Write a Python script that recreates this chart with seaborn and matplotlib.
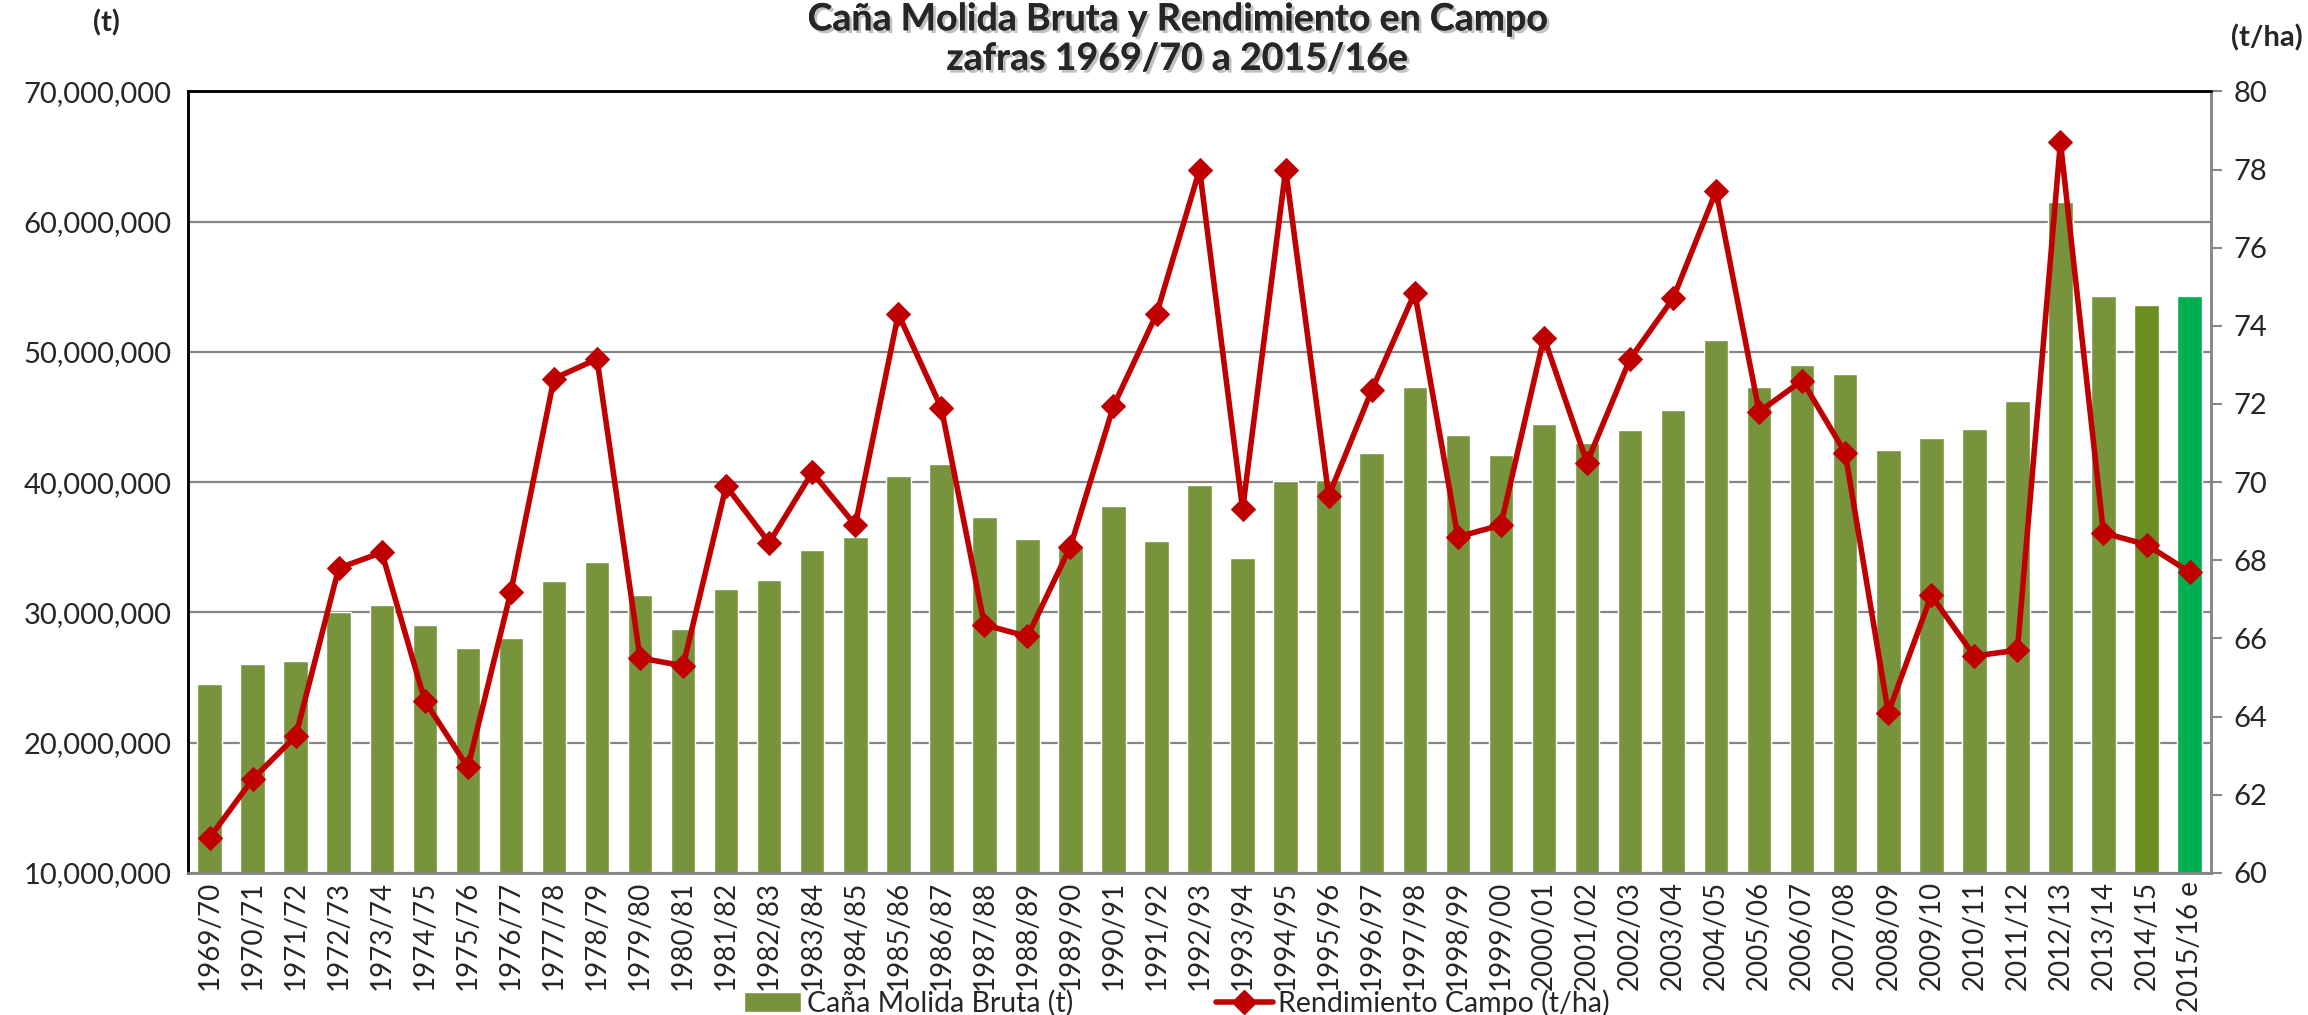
import matplotlib
matplotlib.use("Agg")
import matplotlib.pyplot as plt
import matplotlib.patheffects as pe
import numpy as np
import pandas as pd
import seaborn as sns
from matplotlib.lines import Line2D
from matplotlib.patches import Patch
from matplotlib.ticker import FuncFormatter, MultipleLocator

zafras = [
    "1969/70", "1970/71", "1971/72", "1972/73", "1973/74", "1974/75", "1975/76",
    "1976/77", "1977/78", "1978/79", "1979/80", "1980/81", "1981/82", "1982/83",
    "1983/84", "1984/85", "1985/86", "1986/87", "1987/88", "1988/89", "1989/90",
    "1990/91", "1991/92", "1992/93", "1993/94", "1994/95", "1995/96", "1996/97",
    "1997/98", "1998/99", "1999/00", "2000/01", "2001/02", "2002/03", "2003/04",
    "2004/05", "2005/06", "2006/07", "2007/08", "2008/09", "2009/10", "2010/11",
    "2011/12", "2012/13", "2013/14", "2014/15", "2015/16 e",
]

# Caña molida bruta (t)
cana = [
    24.5, 26.0, 26.3, 30.0, 30.6, 29.0, 27.3, 28.0, 32.4, 33.9,
    31.3, 28.7, 31.8, 32.5, 34.8, 35.8, 40.5, 41.4, 37.3, 35.6,
    35.0, 38.2, 35.5, 39.8, 34.2, 40.1, 40.2, 42.2, 47.3, 43.6,
    42.1, 44.5, 43.0, 44.0, 45.5, 50.9, 47.3, 49.0, 48.3, 42.5,
    43.4, 44.1, 46.2, 61.5, 54.3, 53.6, 54.3,
]
cana = [v * 1_000_000 for v in cana]

# Rendimiento campo (t/ha)
rendimiento = [
    60.9, 62.4, 63.5, 67.8, 68.2, 64.4, 62.7, 67.2, 72.65, 73.15,
    65.5, 65.3, 69.9, 68.45, 70.25, 68.9, 74.3, 71.9, 66.35, 66.05,
    68.35, 71.95, 74.3, 78.0, 69.3, 78.0, 69.65, 72.35, 74.85, 68.6,
    68.9, 73.7, 70.5, 73.15, 74.7, 77.45, 71.8, 72.6, 70.75, 64.1,
    67.1, 65.55, 65.7, 78.7, 68.7, 68.4, 67.7,
]

bar_colors = ["#77933C"] * 45 + ["#6B8E23", "#00B050"]
line_color = "#C00000"

df = pd.DataFrame({"zafra": zafras, "cana": cana, "rend": rendimiento})
df["pos"] = np.arange(len(df))

sns.set_style("white")
plt.rcParams["font.family"] = ["Lato", "DejaVu Sans"]

fig = plt.figure(figsize=(23.08, 10.15), dpi=100)
ax = fig.add_axes([0.0815, 0.140, 0.8765, 0.770])

sns.barplot(
    data=df, x="zafra", y="cana", hue="zafra", palette=bar_colors,
    width=0.57, saturation=1, legend=False, ax=ax, zorder=2,
)
ax.set_ylim(10_000_000, 70_000_000)
ax.set_xlim(-0.5, len(df) - 0.5)
ax.yaxis.set_major_locator(MultipleLocator(10_000_000))
ax.yaxis.set_major_formatter(FuncFormatter(lambda v, p: "{:,.0f}".format(v)))
ax.grid(axis="y", color="#868686", linewidth=1.6, zorder=0)
ax.set_axisbelow(True)
ax.set_xlabel("")
ax.set_ylabel("")
ax.tick_params(axis="y", labelsize=21, length=0, pad=12)
ax.tick_params(axis="x", labelsize=20, rotation=90, length=0, pad=6)

ax2 = ax.twinx()
sns.lineplot(
    data=df, x="pos", y="rend", color=line_color, linewidth=4,
    marker="D", markersize=12, markeredgecolor=line_color, ax=ax2,
)
ax2.set_ylim(60, 80)
ax2.set_xlim(-0.5, len(df) - 0.5)
ax2.yaxis.set_major_locator(MultipleLocator(2))
ax2.set_ylabel("")
ax2.set_xlabel("")
ax2.tick_params(axis="y", labelsize=21, length=8, width=1.5, color="#868686", pad=8)

for a in (ax, ax2):
    a.spines["top"].set_color("black")
    a.spines["left"].set_color("black")
    a.spines["right"].set_color("#868686")
    a.spines["bottom"].set_color("#868686")
    for s in a.spines.values():
        s.set_linewidth(1.8)

shadow = [pe.withSimplePatchShadow(offset=(2, -2), shadow_rgbFace="#999999", alpha=0.6), pe.Normal()]
fig.text(0.51, 0.981, "Caña Molida Bruta y Rendimiento en Campo", ha="center", va="center",
         fontsize=27, fontweight="bold", path_effects=shadow)
fig.text(0.51, 0.942, "zafras 1969/70 a 2015/16e", ha="center", va="center",
         fontsize=27, fontweight="bold", path_effects=shadow)
fig.text(0.046, 0.977, "(t)", ha="center", va="center", fontsize=21, fontweight="bold")
fig.text(0.982, 0.963, "(t/ha)", ha="center", va="center", fontsize=21, fontweight="bold")

handles = [
    Patch(facecolor="#77933C"),
    Line2D([], [], color=line_color, linewidth=4, marker="D", markersize=12),
]
fig.legend(
    handles, ["Caña Molida Bruta (t)", "Rendimiento Campo (t/ha)"],
    loc="center", bbox_to_anchor=(0.51, 0.012), ncol=2, frameon=False,
    fontsize=20.5, handlelength=2.0, handletextpad=0.2, columnspacing=5,
)

fig.savefig("out.png", dpi=100)
